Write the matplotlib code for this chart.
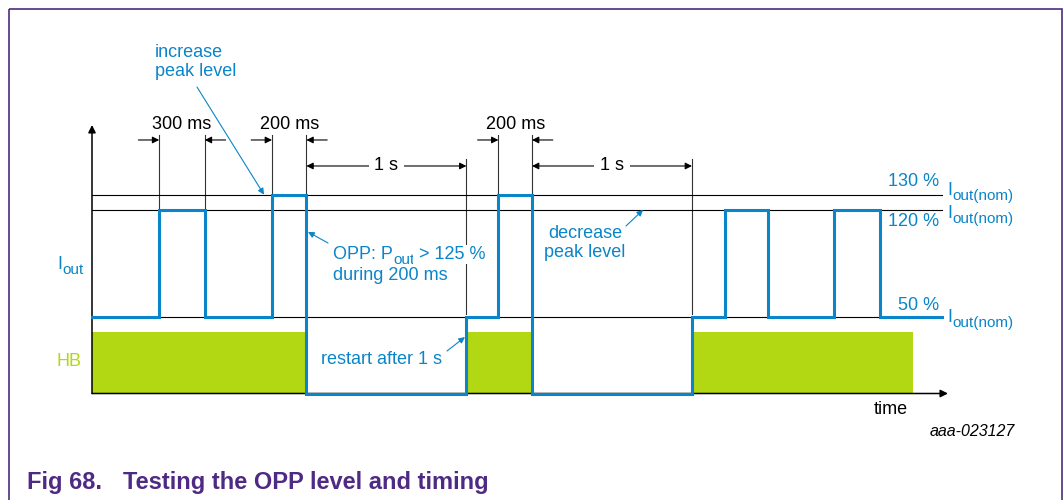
import matplotlib.pyplot as plt
import matplotlib.transforms as mtransforms
from matplotlib.patches import Rectangle

plt.rcParams['font.family'] = ['Liberation Sans', 'DejaVu Sans']

# I_out waveform: switching instants (ms) and the level held from there on (% of I_out(nom))
edge_t = [0, 420, 705, 1125, 1340, 2340, 2540, 2750, 3750, 3955, 4225, 4640, 4925, 5310]
iout_level = [50, 120, 50, 130, 0, 50, 130, 0, 50, 120, 50, 120, 50, 50]

# HB active windows (ms)
hb_start = [0, 2340, 3750]
hb_end = [1340, 2750, 5130]
hb_level = 40

# reference levels (% of I_out(nom))
ref_levels = [130, 120, 50]
ref_labels = ['130 %', '120 %', '50 %']

# pulse width dimensions (ms)
dim_start = [420, 1125, 2540]
dim_end = [705, 1340, 2750]
dim_labels = ['300 ms', '200 ms', '200 ms']

# restart delay dimensions (ms)
gap_start = [1340, 2750]
gap_end = [2340, 3750]
gap_labels = ['1 s', '1 s']

blue = '#0a85c9'
green = '#b2d713'
purple = '#4e2a84'

fig = plt.figure(figsize=(10.64, 5), dpi=100)
ax = fig.add_axes([0, 0, 1, 1])
ax.set_xlim(-575, 6075)
ax.set_ylim((393.5 - 500) / 1.53, 393.5 / 1.53)
ax.axis('off')

# pixel coordinates, origin top-left
px = mtransforms.Affine2D().scale(1 / 1064, -1 / 500).translate(0, 1) + fig.transFigure
renderer = fig.canvas.get_renderer()

# frame
fig.patches.append(Rectangle((9, 9), 1053, 600, transform=px, fill=False,
                             ec=purple, lw=1.2, clip_on=False))


def level_at(t):
    i = edge_t.index(t)
    return max(iout_level[i - 1], iout_level[i]) if i > 0 else iout_level[0]


def sub_text(x, y, head, sub, tail='', color=blue, tail_kw=None):
    # text with a subscript, y is the baseline in pixels
    t = ax.text(x, y, head, transform=px, color=color, fontsize=13,
                ha='left', va='baseline', zorder=4)
    x = t.get_window_extent(renderer).x1
    t = ax.text(x, y + 5, sub, transform=px, color=color, fontsize=11,
                ha='left', va='baseline', zorder=4)
    if tail:
        x = t.get_window_extent(renderer).x1
        ax.text(x, y, tail, transform=px, color=color, fontsize=13,
                ha='left', va='baseline', zorder=4, **(tail_kw or {}))


# HB band
for s, e in zip(hb_start, hb_end):
    ax.fill_between([s, e], 0, hb_level, color=green, lw=0, zorder=1)

# reference lines
for lv in ref_levels:
    ax.plot([edge_t[0], edge_t[-1]], [lv, lv], color='black', lw=0.8, zorder=2)

# axes with arrows
ax.annotate('', xy=(0, 175.5), xytext=(0, 0),
            arrowprops=dict(arrowstyle='-|>', color='black', lw=1.1,
                            mutation_scale=11, shrinkA=0, shrinkB=0), zorder=2)
ax.annotate('', xy=(5350, 0), xytext=(0, 0),
            arrowprops=dict(arrowstyle='-|>', color='black', lw=1.1,
                            mutation_scale=11, shrinkA=0, shrinkB=0), zorder=2)

# waveform
ax.plot(edge_t, iout_level, drawstyle='steps-post', color=blue, lw=2.2,
        solid_joinstyle='miter', zorder=3)

# pulse width dimensions
for s, e, lab in zip(dim_start, dim_end, dim_labels):
    for t in (s, e):
        ax.plot([t, t], [level_at(t), 169], color='#333333', lw=0.8, zorder=1.5)
    ax.annotate('', xy=(s, 165.7), xytext=(s - 130, 165.7),
                arrowprops=dict(arrowstyle='-|>', color='black', lw=0.8,
                                mutation_scale=10, shrinkA=0, shrinkB=0))
    ax.annotate('', xy=(e, 165.7), xytext=(e + 130, 165.7),
                arrowprops=dict(arrowstyle='-|>', color='black', lw=0.8,
                                mutation_scale=10, shrinkA=0, shrinkB=0))
    ax.text((s + e) / 2, 176, lab, ha='center', va='center', fontsize=13)

# restart delay dimensions
for s, e, lab in zip(gap_start, gap_end, gap_labels):
    ax.plot([e, e], [level_at(e) + 2, 153], color='#333333', lw=0.8, zorder=1.5)
    ax.annotate('', xy=(e, 148.7), xytext=(s, 148.7),
                arrowprops=dict(arrowstyle='<|-|>', color='black', lw=0.8,
                                mutation_scale=10, shrinkA=0, shrinkB=0))
    ax.text((s + e) / 2, 148.7, lab, ha='center', va='center', fontsize=13,
            bbox=dict(fc='white', ec='none', pad=4))

# left labels
sub_text(57, 269, 'I', 'out')
ax.text(57, 362, 'HB', transform=px, color=green, fontsize=13, ha='left', va='center')

# right labels
for lab, y in zip(ref_labels, [182, 221, 305]):
    ax.text(939, y, lab, transform=px, color=blue, fontsize=13, ha='right', va='center')
for y in [195, 218, 322]:
    sub_text(947, y, 'I', 'out(nom)')

# blue callouts
arrow_kw = dict(arrowstyle='-|>', color=blue, lw=0.8, mutation_scale=9,
                shrinkA=0, shrinkB=0)
ax.text(155, 62, 'increase\npeak level', transform=px, color=blue, fontsize=13,
        ha='left', va='center')
ax.annotate('', xy=(1075, 130), xytext=(197, 87), textcoords=px, arrowprops=arrow_kw)

sub_text(333, 259, 'OPP: P', 'out', ' > 125 %',
         tail_kw=dict(bbox=dict(fc='white', ec='none', pad=1)))
ax.text(333, 275, 'during 200 ms', transform=px, color=blue, fontsize=13,
        ha='left', va='center', zorder=4)
ax.annotate('', xy=(1350, 105.6), xytext=(328, 243), textcoords=px, arrowprops=arrow_kw)

ax.text(585, 243, 'decrease\npeak level', transform=px, color=blue, fontsize=13,
        ha='center', va='center', multialignment='center')
ax.annotate('', xy=(3444, 120), xytext=(626, 226), textcoords=px, arrowprops=arrow_kw)

ax.text(321, 360, 'restart after 1 s', transform=px, color=blue, fontsize=13,
        ha='left', va='center')
ax.annotate('', xy=(2331, 36.9), xytext=(447, 351), textcoords=px, arrowprops=arrow_kw)

# axis name and figure id
ax.text(891, 409, 'time', transform=px, fontsize=13, ha='center', va='center')
ax.text(1015, 432, 'aaa-023127', transform=px, fontsize=11.5, style='italic',
        ha='right', va='center')

# caption
ax.text(27, 483, 'Fig 68.', transform=px, color=purple, fontsize=17,
        fontweight='bold', ha='left', va='center')
ax.text(123, 483, 'Testing the OPP level and timing', transform=px, color=purple,
        fontsize=17, fontweight='bold', ha='left', va='center')

fig.savefig('out.png', dpi=100)
